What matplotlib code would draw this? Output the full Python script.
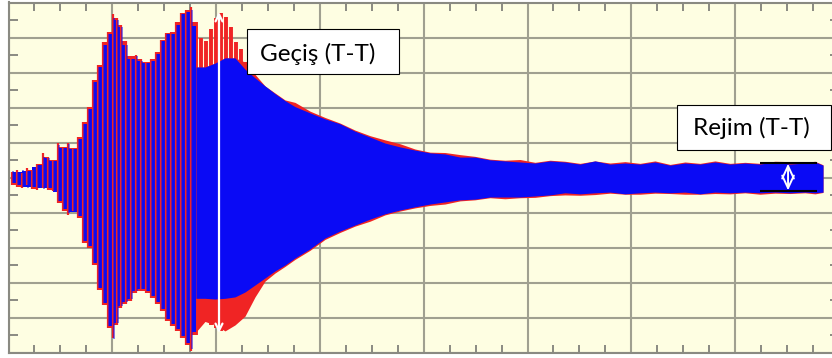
import numpy as np
import matplotlib
matplotlib.use("Agg")
import matplotlib.pyplot as plt
from matplotlib.patches import Rectangle

# ---- data (x in grid divisions, y in grid divisions about the centre line) ----
# Individual oscillation peaks during the start-up transient
spike_x = [0.034, 0.082, 0.130, 0.178, 0.226, 0.275, 0.332, 0.381, 0.429, 0.477,
           0.525, 0.573, 0.621, 0.670, 0.718, 0.766, 0.814, 0.862, 0.910, 0.959,
           1.007, 1.045, 1.084, 1.132, 1.180, 1.228, 1.276, 1.325, 1.373, 1.421,
           1.469, 1.517, 1.566, 1.614, 1.662, 1.710, 1.758, 1.806, 1.855, 1.903,
           1.951, 1.999, 2.047, 2.095, 2.144, 2.192, 2.240, 2.288, 2.336]
red_top = [0.17, 0.22, 0.14, 0.28, 0.22, 0.40, 0.71, 0.60, 0.51, 1.00,
           0.89, 1.00, 0.86, 1.17, 1.60, 2.03, 2.80, 3.23, 3.86, 4.17,
           4.66, 4.57, 4.37, 3.89, 3.46, 3.51, 3.40, 3.31, 3.40, 3.60,
           3.94, 4.14, 4.17, 4.43, 4.71, 4.80, 4.86, 4.43, 4.00, 3.89,
           4.23, 4.57, 4.71, 4.60, 4.31, 3.86, 3.66, 3.30, 3.00]
blue_top = [0.20, 0.15, 0.22, 0.20, 0.30, 0.35, 0.60, 0.55, 0.49, 0.94,
            0.86, 0.97, 0.83, 1.11, 1.54, 1.97, 2.74, 3.17, 3.80, 4.11,
            4.57, 4.49, 4.29, 3.80, 3.40, 3.46, 3.34, 3.26, 3.34, 3.54,
            3.89, 4.09, 4.11, 4.37, 4.66, 4.74, 4.80, 4.34, 3.30, 3.20,
            3.25, 3.30, 3.35, 3.40, 3.43, 3.40, 3.37, 3.10, 2.85]
red_bot = [-0.20, -0.26, -0.30, -0.22, -0.32, -0.35, -0.29, -0.34, -0.37, -0.71,
           -0.94, -1.06, -0.94, -1.14, -1.86, -2.00, -2.49, -3.20, -3.63, -4.29,
           -4.57, -4.20, -3.71, -3.60, -3.51, -3.29, -3.23, -3.30, -3.43, -3.60,
           -3.80, -4.09, -4.23, -4.37, -4.57, -4.77, -4.94, -4.50, -4.10, -4.10,
           -4.20, -4.30, -4.37, -4.30, -4.25, -4.10, -4.00, -3.70, -3.40]
blue_bot = [-0.15, -0.22, -0.25, -0.28, -0.25, -0.30, -0.33, -0.30, -0.40, -0.66,
            -0.90, -1.00, -0.97, -1.10, -1.80, -1.95, -2.43, -3.14, -3.57, -4.23,
            -4.60, -4.14, -3.66, -3.54, -3.46, -3.23, -3.17, -3.24, -3.37, -3.54,
            -3.74, -4.03, -4.17, -4.31, -4.51, -4.71, -4.88, -4.40, -3.44, -3.44,
            -3.45, -3.46, -3.45, -3.44, -3.42, -3.40, -3.34, -3.26, -3.10]

# Envelope of the dense oscillation (decay towards steady state)
env_x = [1.806, 1.893, 1.989, 2.086, 2.182, 2.278, 2.375, 2.471, 2.567, 2.664,
         2.760, 2.905, 3.049, 3.194, 3.338, 3.483, 3.627, 3.772, 3.916, 4.061,
         4.205, 4.350, 4.494, 4.639, 4.783, 4.928, 5.072, 5.217, 5.361, 5.506,
         5.650, 5.795, 5.939, 6.084, 6.228, 6.373, 6.517, 6.662, 6.806, 6.951,
         7.095, 7.240, 7.384, 7.529, 7.673, 7.770, 7.847]
blue_env_top = [3.16, 3.16, 3.27, 3.42, 3.42, 3.10, 2.85, 2.62, 2.40, 2.20,
                2.03, 1.85, 1.68, 1.54, 1.33, 1.16, 0.99, 0.88, 0.79, 0.71,
                0.68, 0.59, 0.59, 0.51, 0.48, 0.45, 0.42, 0.48, 0.45, 0.39,
                0.48, 0.39, 0.42, 0.39, 0.45, 0.36, 0.42, 0.39, 0.45, 0.39,
                0.42, 0.39, 0.45, 0.39, 0.42, 0.45, 0.36]
blue_env_bot = [-3.44, -3.44, -3.46, -3.44, -3.40, -3.26, -3.06, -2.86, -2.66, -2.49,
                -2.29, -2.03, -1.72, -1.52, -1.35, -1.18, -1.03, -0.92, -0.83, -0.75,
                -0.69, -0.63, -0.61, -0.55, -0.55, -0.55, -0.52, -0.49, -0.43, -0.46,
                -0.43, -0.41, -0.46, -0.43, -0.41, -0.43, -0.41, -0.46, -0.41, -0.43,
                -0.41, -0.43, -0.41, -0.43, -0.41, -0.43, -0.41]
red_env_top = [3.16, 3.16, 3.27, 3.42, 3.42, 3.30, 2.95, 2.62, 2.42, 2.22,
               2.15, 1.90, 1.72, 1.56, 1.36, 1.20, 1.08, 0.97, 0.82, 0.73,
               0.72, 0.66, 0.61, 0.53, 0.50, 0.52, 0.44, 0.50, 0.47, 0.41,
               0.48, 0.42, 0.46, 0.41, 0.48, 0.38, 0.45, 0.41, 0.48, 0.41,
               0.44, 0.41, 0.47, 0.46, 0.44, 0.47, 0.37]
red_env_bot = [-4.40, -4.10, -4.20, -4.37, -4.20, -3.95, -3.40, -2.95, -2.72, -2.53,
               -2.33, -2.07, -1.76, -1.56, -1.38, -1.24, -1.06, -0.95, -0.86, -0.79,
               -0.75, -0.66, -0.63, -0.57, -0.60, -0.57, -0.56, -0.51, -0.49, -0.50,
               -0.48, -0.44, -0.47, -0.47, -0.44, -0.45, -0.47, -0.47, -0.45, -0.46,
               -0.43, -0.47, -0.44, -0.45, -0.43, -0.46, -0.42]

# Peak-to-peak markers
transient_x, transient_top, transient_bot = 2.028, 4.73, -4.43
steady_x, steady_top, steady_bot = 7.51, 0.42, -0.38
steady_span = (7.24, 7.79)

label_transient = "Geçiş (T-T)"
label_steady = "Rejim (T-T)"

# ---- styling ----
BG = "#FEFEE2"
GRID = "#a0a090"
FRAME = "#8a8a82"
BLUE = "#0a0af5"
RED = "#f02424"

W, H = 832, 358
fig = plt.figure(figsize=(W / 100, H / 100), dpi=100)
fig.patch.set_facecolor("white")
px = 103.8  # pixels per x division
ax = fig.add_axes([8.5 / W, 5 / H, 8 * px / W, 350.5 / H])
ax.set_facecolor(BG)
ax.set_xlim(0, 8)
ax.set_ylim(-5, 5)

ax.set_xticks(np.arange(0, 9, 1))
ax.set_xticks(np.arange(0, 8.01, 0.25), minor=True)
ax.set_yticks(np.arange(-5, 6, 1))
ax.set_yticks(np.arange(-4.5, 5, 1), minor=True)
ax.tick_params(which="both", direction="in", top=True, right=True,
               labelbottom=False, labelleft=False, color=FRAME, width=1.4)
ax.tick_params(which="major", length=0)
ax.tick_params(axis="x", which="minor", length=5.8)
ax.tick_params(axis="y", which="minor", length=6.5)
ax.grid(which="major", color=GRID, lw=1.5)
ax.set_axisbelow(True)
for sp in ax.spines.values():
    sp.set_color(FRAME)
    sp.set_linewidth(1.5)

sx = np.array(spike_x)
rt, bt = np.array(red_top), np.array(blue_top)
rb, bb = np.array(red_bot), np.array(blue_bot)

back = sx >= env_x[0]
front = ~back
n_front = int(front.sum()) + 1   # bridge into the envelope


def gap_fill(top, bot):
    t = np.minimum(top[:-1], top[1:])
    b = np.maximum(bot[:-1], bot[1:])
    return np.append(t, t[-1]), np.append(b, b[-1])


# red trace (behind)
gt, gb = gap_fill(rt[:n_front], rb[:n_front])
ax.fill_between(sx[:n_front], gb, gt, step="post", color=RED, lw=0, zorder=2)
ax.fill_between(env_x, red_env_bot, red_env_top, color=RED, lw=0, zorder=2)
ax.vlines(sx[back], rb[back], rt[back], colors=RED, lw=2.8, zorder=2.5)

# blue trace
gt, gb = gap_fill(bt[:n_front], bb[:n_front])
ax.fill_between(sx[:n_front], gb, gt, step="post", color=BLUE, lw=0, zorder=3)
ax.fill_between(env_x, blue_env_bot, blue_env_top, color=BLUE, lw=0, zorder=3)

# individual cycles of the transient: red edge + overlapping blue
d = 1.0 / px
ax.vlines(sx[front], rb[front], rt[front], colors=RED, lw=1.6, zorder=4)
ax.vlines(sx[front] + 0.6 * d, bb[front], bt[front], colors=BLUE, lw=1.4,
          alpha=0.5, zorder=4.5)

# peak-to-peak arrows
ax.annotate("", xy=(transient_x, transient_top), xytext=(transient_x, transient_bot),
            arrowprops=dict(arrowstyle="<->,head_length=0.5,head_width=0.25",
                            color="white", lw=1.6, shrinkA=0, shrinkB=0),
            zorder=6)
ax.hlines([steady_top, steady_bot], *steady_span, colors="black", lw=1.5, zorder=6)
ax.annotate("", xy=(steady_x, steady_top - 0.02), xytext=(steady_x, steady_bot + 0.02),
            arrowprops=dict(arrowstyle="<->,head_length=0.9,head_width=0.42",
                            color="white", lw=1.4, shrinkA=0, shrinkB=0),
            zorder=6)

# labels in boxes
ax.add_patch(Rectangle((2.298, 2.960), 3.762 - 2.298, 4.244 - 2.960,
                       facecolor="white", edgecolor="black", lw=0.8, zorder=7))
ax.text(2.977, 3.53, label_transient, ha="center", va="center",
        fontsize=17.5, family="Lato", color="black", zorder=8)
ax.add_patch(Rectangle((6.440, 0.792), 7.924 - 6.440, 2.076 - 0.792,
                       facecolor="white", edgecolor="black", lw=0.8, zorder=7))
ax.text(7.153, 1.42, label_steady, ha="center", va="center",
        fontsize=17.5, family="Lato", color="black", zorder=8)

fig.savefig("out.png", dpi=100, facecolor="white")
